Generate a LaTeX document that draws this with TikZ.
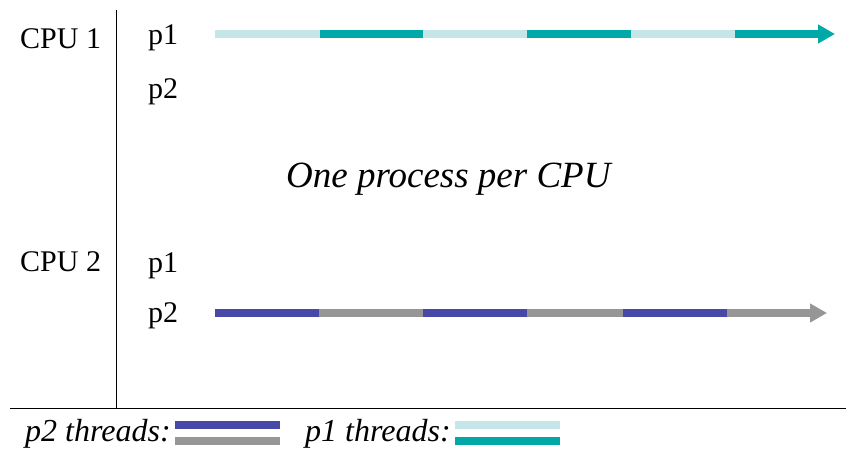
\documentclass[tikz,border=0pt]{standalone}
\usepackage{fontspec}
\setmainfont{Liberation Serif}
\usetikzlibrary{arrows.meta}
\definecolor{lteal}{RGB}{197,230,232}
\definecolor{dteal}{RGB}{0,168,168}
\definecolor{tblue}{RGB}{72,72,168}
\definecolor{tgray}{RGB}{150,150,150}
\tikzset{
  lbl/.style={anchor=base west, inner sep=0pt, font=\fontsize{30}{30}\selectfont},
  leg/.style={anchor=base west, inner sep=0pt, font=\fontsize{32}{32}\selectfont\itshape},
  seg/.style={line width=8pt, line cap=butt},
  tip/.style={-{Triangle[length=17pt,width=18pt]}},
  axis/.style={line width=1pt, black}
}
\begin{document}
\begin{tikzpicture}[x=1pt,y=-1pt]
\useasboundingbox (0,0) rectangle (846,450);
% axes
\draw[axis] (116,10) -- (116,408);
\draw[axis] (10,408) -- (846,408);
% labels
\node[lbl] (cpu1) at (20,48) {CPU 1};
\node[lbl] (c1p1) at (148,44) {p1};
\node[lbl] (c1p2) at (148,98) {p2};
\node[lbl] (cpu2) at (20,271) {CPU 2};
\node[lbl] (c2p1) at (148,272) {p1};
\node[lbl] (c2p2) at (148,322) {p2};
\node[anchor=base west, inner sep=0pt, font=\fontsize{37}{37}\selectfont\itshape] (title) at (286,187) {One process per CPU};
% CPU 1 p1 timeline
\draw[seg, lteal] (215,34) -- (320,34);
\draw[seg, dteal] (320,34) -- (423,34);
\draw[seg, lteal] (423,34) -- (527,34);
\draw[seg, dteal] (527,34) -- (631,34);
\draw[seg, lteal] (631,34) -- (735,34);
\draw[seg, dteal, tip] (735,34) -- (835,34);
% CPU 2 p2 timeline
\draw[seg, tblue] (215,313) -- (319,313);
\draw[seg, tgray] (319,313) -- (423,313);
\draw[seg, tblue] (423,313) -- (527,313);
\draw[seg, tgray] (527,313) -- (623,313);
\draw[seg, tblue] (623,313) -- (727,313);
\draw[seg, tgray, tip] (727,313) -- (827,313);
% legend
\node[leg] (l2) at (25,441) {p2 threads:};
\draw[seg, tblue] (175,425) -- (280,425);
\draw[seg, tgray] (175,441) -- (280,441);
\node[leg] (l1) at (305,441) {p1 threads:};
\draw[seg, lteal] (455,425) -- (560,425);
\draw[seg, dteal] (455,441) -- (560,441);
\end{tikzpicture}
\end{document}
